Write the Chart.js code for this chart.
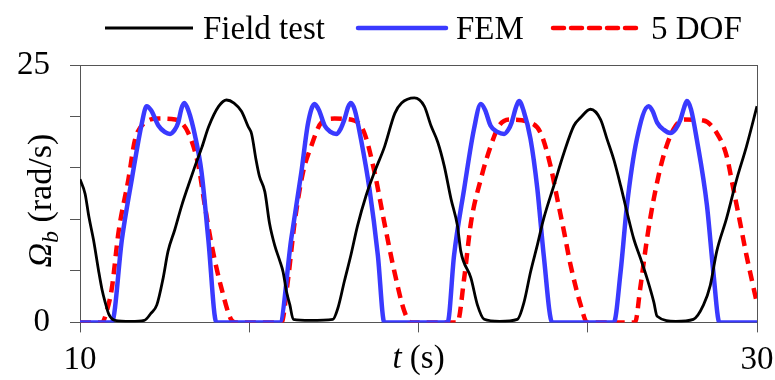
<!DOCTYPE html>
<html>
<head>
<meta charset="utf-8">
<script src="https://cdn.jsdelivr.net/npm/chart.js@4.4.1/dist/chart.umd.min.js"></script>
<style>
  html, body { margin: 0; padding: 0; background: #fff; }
  #wrap { width: 775px; height: 380px; }
</style>
</head>
<body>
<div id="wrap"><canvas id="chart" width="775" height="380"></canvas></div>
<script>
// Field test (measured)
const fieldT = [10.0, 10.15, 10.26, 10.4, 10.55, 10.65, 10.74, 10.85, 11.03, 11.5, 11.9, 12.1, 12.27, 12.45, 12.6, 12.8, 13.0, 13.2, 13.4, 13.6, 13.8, 14.1, 14.33, 14.55, 14.77, 14.97, 15.07, 15.2, 15.3, 15.46, 15.6, 15.75, 15.9, 16.0, 16.1, 16.2, 16.3, 16.8, 17.47, 17.62, 17.81, 18.0, 18.2, 18.45, 18.7, 19.0, 19.3, 19.5, 19.88, 20.17, 20.37, 20.57, 20.76, 20.96, 21.15, 21.25, 21.55, 21.74, 21.94, 22.4, 22.92, 23.12, 23.31, 23.51, 23.7, 24.0, 24.3, 24.59, 24.79, 25.08, 25.38, 25.57, 25.77, 25.97, 26.16, 26.36, 26.56, 26.75, 26.95, 27.05, 27.6, 28.12, 28.42, 28.62, 28.81, 29.1, 29.4, 29.69, 30.0];
const fieldV = [13.9, 12.5, 10.3, 8.0, 5.0, 3.2, 2.0, 0.8, 0.2, 0.1, 0.2, 0.9, 1.7, 4.2, 6.9, 9.0, 11.3, 13.3, 15.2, 17.0, 19.0, 21.0, 21.6, 21.3, 20.5, 19.0, 18.3, 15.8, 14.2, 12.7, 9.6, 7.5, 6.0, 4.9, 3.0, 1.7, 0.3, 0.2, 0.3, 1.4, 4.0, 6.5, 9.4, 12.3, 14.6, 17.1, 20.3, 21.3, 21.8, 21.0, 19.1, 17.5, 15.2, 12.0, 9.4, 6.9, 4.3, 1.7, 0.3, 0.1, 0.3, 2.0, 4.9, 7.5, 10.1, 13.3, 16.5, 19.1, 19.9, 20.7, 19.7, 17.8, 15.8, 13.3, 10.7, 8.1, 6.2, 4.3, 2.0, 0.6, 0.1, 0.3, 1.7, 3.6, 6.9, 10.1, 13.9, 17.1, 21.0];

// FEM
const femT = [10.0, 10.94, 11.24, 11.53, 11.83, 11.97, 12.1, 12.32, 12.5, 12.66, 12.8, 12.9, 13.0, 13.08, 13.2, 13.4, 13.59, 13.79, 14.03, 15.9, 16.24, 16.54, 16.74, 16.93, 17.06, 17.23, 17.4, 17.57, 17.7, 17.81, 17.92, 18.0, 18.12, 18.3, 18.55, 18.8, 18.99, 20.86, 21.05, 21.35, 21.64, 21.84, 21.97, 22.13, 22.33, 22.53, 22.65, 22.75, 22.88, 22.97, 23.1, 23.31, 23.51, 23.7, 23.95, 25.77, 25.97, 26.16, 26.45, 26.8, 26.92, 27.05, 27.25, 27.44, 27.6, 27.74, 27.85, 27.93, 28.05, 28.22, 28.52, 28.71, 28.89, 30.0];
const femV = [0, 0, 8.1, 13.9, 19.4, 21.0, 20.6, 19.1, 18.5, 18.3, 18.7, 19.4, 20.8, 21.3, 20.6, 18.1, 14.6, 8.1, 0, 0, 8.1, 14.6, 19.4, 21.2, 20.6, 19.1, 18.5, 18.3, 18.8, 19.7, 20.9, 21.3, 20.6, 17.8, 13.0, 6.5, 0, 0, 6.5, 13.0, 18.8, 21.2, 20.6, 19.1, 18.5, 18.3, 18.7, 19.4, 20.9, 21.5, 20.6, 17.8, 13.0, 6.5, 0, 0, 4.9, 11.4, 17.8, 21.0, 20.5, 19.4, 18.7, 18.4, 18.8, 19.7, 20.9, 21.5, 20.7, 17.8, 11.4, 4.9, 0, 0];

// 5 DOF model
const dofT = [10.0, 10.65, 10.8, 10.94, 11.14, 11.43, 11.63, 11.92, 12.32, 12.81, 13.2, 13.5, 13.69, 13.89, 14.18, 14.48, 14.6, 15.95, 16.15, 16.34, 16.59, 16.83, 17.13, 17.52, 18.11, 18.4, 18.7, 18.99, 19.29, 19.58, 19.78, 21.15, 21.35, 21.55, 21.84, 22.13, 22.38, 22.72, 23.31, 23.61, 23.9, 24.1, 24.3, 24.49, 24.79, 24.98, 26.4, 26.55, 26.75, 26.95, 27.24, 27.54, 27.83, 28.42, 28.81, 29.1, 29.3, 29.5, 29.69, 29.99];
const dofV = [0, 0, 1.2, 3.3, 8.8, 13.9, 17.8, 19.4, 19.8, 19.7, 18.4, 15.2, 11.3, 7.5, 3.3, 0.2, 0, 0, 4.3, 9.7, 14.6, 17.1, 19.4, 19.8, 19.6, 18.4, 14.6, 9.7, 4.9, 1.1, 0, 0, 4.3, 9.7, 13.9, 17.1, 19.1, 19.7, 19.4, 18.4, 15.2, 12.0, 8.8, 5.6, 1.7, 0, 0, 3.3, 8.1, 12.0, 16.2, 18.8, 19.7, 19.6, 18.4, 16.2, 13.0, 9.7, 6.5, 2.0];

const xTicksShown = [10, 30];
const yTicksShown = [0, 25];

const FONT = 'Liberation Serif, "Times New Roman", serif';
const toPts = (ts, vs) => ts.map((t, i) => ({ x: t, y: vs[i] }));

// legend + axis titles drawn on the canvas
const decor = {
  id: 'decor',
  afterDraw(chart) {
    const ctx = chart.ctx;
    const area = chart.chartArea;
    ctx.save();
    ctx.fillStyle = '#000';
    ctx.textBaseline = 'alphabetic';

    // legend
    const starts = [105, 358, 553];
    ctx.font = '33px ' + FONT;
    chart.data.datasets.forEach((ds, i) => {
      const x0 = starts[i];
      ctx.save();
      ctx.strokeStyle = ds.borderColor;
      ctx.lineWidth = ds.borderWidth;
      ctx.lineCap = i === 0 ? 'butt' : 'round';
      ctx.setLineDash(ds.borderDash || []);
      ctx.beginPath();
      ctx.moveTo(x0, 28);
      ctx.lineTo(x0 + 88, 28);
      ctx.stroke();
      ctx.restore();
      ctx.fillText(ds.label, x0 + 98, 39);
    });

    // x title: t (s)
    const cx = (area.left + area.right) / 2;
    ctx.font = 'italic 33px ' + FONT;
    const wt = ctx.measureText('t').width;
    ctx.font = '33px ' + FONT;
    const ws = ctx.measureText(' (s)').width;
    let x = cx - (wt + ws) / 2;
    ctx.font = 'italic 33px ' + FONT;
    ctx.fillText('t', x, 368);
    ctx.font = '33px ' + FONT;
    ctx.fillText(' (s)', x + wt, 368);

    // y title: Ω_b (rad/s)
    const cy = (area.top + area.bottom) / 2 + 7;
    ctx.translate(51, cy);
    ctx.rotate(-Math.PI / 2);
    const parts = [
      { t: '\u03A9', f: 'italic 34px ' + FONT, dy: 0 },
      { t: 'b', f: 'italic 24px ' + FONT, dy: 7 },
      { t: ' (rad/s)', f: '34px ' + FONT, dy: 0 }
    ];
    let total = 0;
    parts.forEach(p => { ctx.font = p.f; p.w = ctx.measureText(p.t).width; total += p.w; });
    let px = -total / 2;
    parts.forEach(p => { ctx.font = p.f; ctx.fillText(p.t, px, p.dy); px += p.w; });
    ctx.restore();
  }
};

const ctx = document.getElementById('chart').getContext('2d');
new Chart(ctx, {
  type: 'line',
  data: {
    datasets: [
      {
        label: 'Field test',
        data: toPts(fieldT, fieldV),
        borderColor: '#000000',
        borderWidth: 2.8,
        pointRadius: 0,
        cubicInterpolationMode: 'monotone',
        fill: false
      },
      {
        label: 'FEM',
        data: toPts(femT, femV),
        borderColor: '#3a3aff',
        borderWidth: 4.5,
        borderCapStyle: 'round',
        borderJoinStyle: 'round',
        pointRadius: 0,
        cubicInterpolationMode: 'monotone',
        fill: false
      },
      {
        label: '5 DOF',
        data: toPts(dofT, dofV),
        borderColor: '#ff0000',
        borderWidth: 4.5,
        borderDash: [11, 7],
        pointRadius: 0,
        cubicInterpolationMode: 'monotone',
        fill: false
      }
    ]
  },
  options: {
    responsive: false,
    animation: false,
    devicePixelRatio: 1,
    layout: { padding: { top: 65, left: -3, right: 18, bottom: -8 } },
    scales: {
      x: {
        type: 'linear',
        min: 10,
        max: 30,
        afterFit: s => { s.paddingLeft = 16; s.paddingRight = 18; },
        ticks: {
          stepSize: 5,
          autoSkip: false,
          maxRotation: 0,
          padding: 8,
          color: '#000',
          font: { family: FONT, size: 33 },
          callback: v => xTicksShown.includes(v) ? String(v) : ''
        },
        grid: {
          color: c => (c.tick && c.tick.value === 30) ? '#555' : 'rgba(0,0,0,0)',
          tickColor: '#555',
          tickLength: 10,
          lineWidth: 1
        },
        border: { display: true, color: '#555', width: 1 }
      },
      y: {
        min: 0,
        max: 25,
        ticks: {
          stepSize: 5,
          padding: 20,
          color: '#000',
          font: { family: FONT, size: 33 },
          callback: v => yTicksShown.includes(v) ? String(v) : ''
        },
        grid: {
          color: c => (c.tick && c.tick.value === 25) ? '#555' : 'rgba(0,0,0,0)',
          tickColor: '#555',
          tickLength: 10,
          lineWidth: 1
        },
        border: { display: true, color: '#555', width: 1 }
      }
    },
    plugins: {
      legend: { display: false },
      tooltip: { enabled: false }
    }
  },
  plugins: [decor]
});
</script>
</body>
</html>
